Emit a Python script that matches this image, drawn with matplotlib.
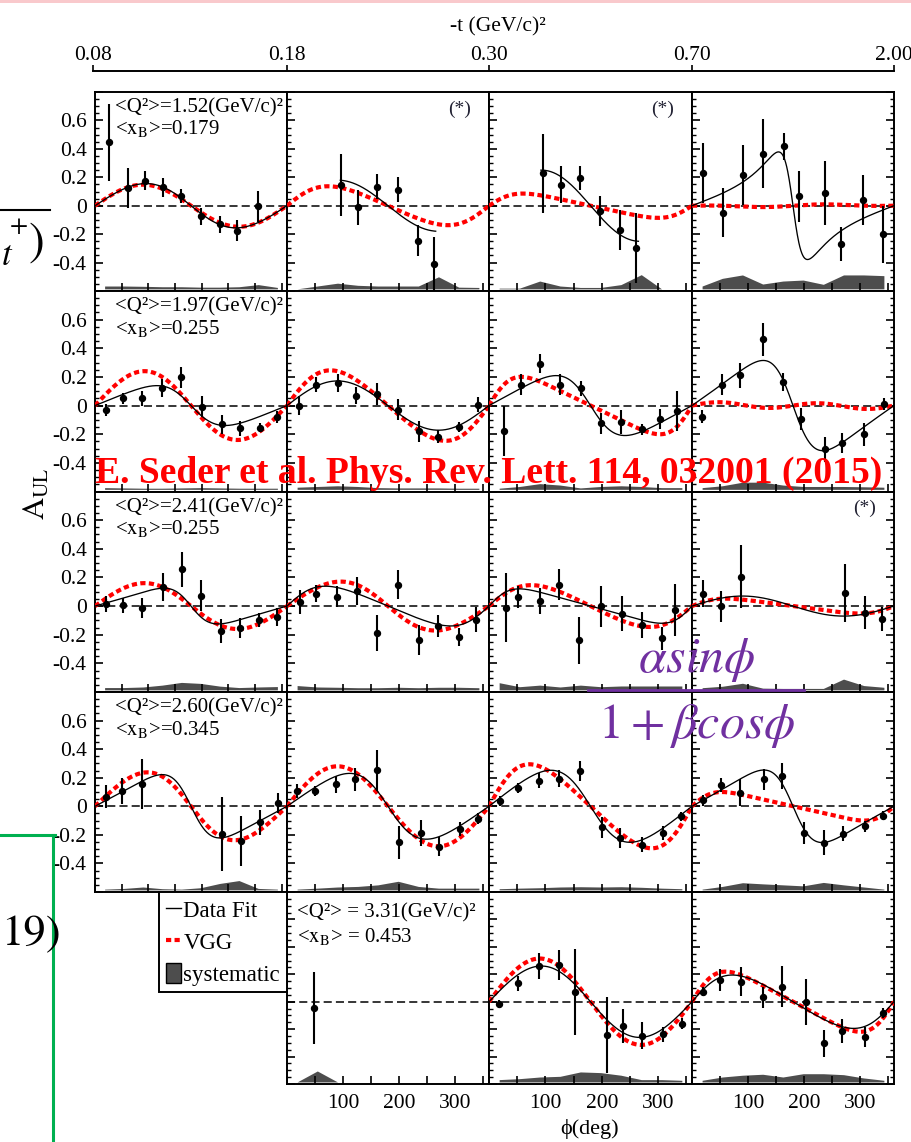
import numpy as np
import matplotlib
matplotlib.use("Agg")
import matplotlib.pyplot as plt
from matplotlib.lines import Line2D
from matplotlib.patches import Patch, Rectangle
from matplotlib.ticker import MultipleLocator, FuncFormatter

W, H = 912, 1142
plt.rcParams['font.family'] = ['Liberation Serif', 'DejaVu Serif']
plt.rcParams['mathtext.fontset'] = 'stix'

nan = np.nan

# bin centres of the systematic bands (deg)
sys_phi = [18, 54, 90, 126, 162, 198, 234, 270, 306, 342]
SYS_BASE = -0.585

# ---- <Q^2> = 1.52 ----
phi_a1 = [26, 62, 93, 128, 161, 198, 235, 267, 306]
asy_a1 = [0.447, 0.125, 0.176, 0.13, 0.07, -0.075, -0.13, -0.176, -0.005]
err_a1 = [0.27, 0.14, 0.067, 0.067, 0.05, 0.06, 0.06, 0.073, 0.11]
sys_a1 = [0.02, 0.02, 0.018, 0.015, 0.015, 0.012, 0.012, 0.015, 0.03, 0.01]

phi_a2 = [96, 127, 160, 198, 233, 262]
asy_a2 = [0.148, -0.01, 0.134, 0.113, -0.245, -0.41]
err_a2 = [0.218, 0.124, 0.09, 0.087, 0.108, 0.19]
sys_a2 = [0.0, 0.02, 0.04, 0.025, 0.02, 0.02, 0.02, 0.085, 0.012, 0.01]

phi_a3 = [96, 127, 161, 196, 233, 261]
asy_a3 = [0.228, 0.146, 0.195, -0.035, -0.17, -0.296]
err_a3 = [0.277, 0.13, 0.087, 0.105, 0.14, 0.245]
sys_a3 = [0.005, 0.005, 0.055, 0.02, 0.01, 0.01, 0.03, 0.1, 0.0, nan]

phi_a4 = [19, 56, 91, 127, 164, 191, 237, 266, 305, 340]
asy_a4 = [0.23, -0.05, 0.214, 0.365, 0.419, 0.066, 0.089, -0.27, 0.04, -0.2]
err_a4 = [0.21, 0.173, 0.21, 0.243, 0.094, 0.18, 0.224, 0.122, 0.178, 0.2]
sys_a4 = [0.02, 0.074, 0.098, 0.034, 0.055, 0.062, 0.032, 0.098, 0.098, 0.093]

fit_a = [(0.155, 0.10), (0.18, 0.0), (0.25, 0.05), (0.165, 0.90)]
span_a = [(0, 360), (95, 265), (92, 265), (0, 360)]
vgg_a = [(0.148, 0.0, 0.0), (0.131, -0.29, 0.0), (0.074, -0.5, 0.0), (-0.006, 0.0, 0.005)]

# ---- <Q^2> = 1.97 ----
phi_b1 = [20, 52, 89, 125, 161, 200, 238, 271, 309, 342]
asy_b1 = [-0.03, 0.05, 0.052, 0.122, 0.198, -0.007, -0.132, -0.16, -0.155, -0.08]
err_b1 = [0.044, 0.04, 0.053, 0.065, 0.074, 0.074, 0.065, 0.05, 0.03, 0.04]
sys_b1 = [0.012, 0.01, 0.008, 0.008, 0.01, 0.012, 0.01, 0.008, 0.008, 0.008]

phi_b2 = [21, 52, 91, 123, 160, 198, 236, 269, 306, 340]
asy_b2 = [0.0, 0.146, 0.158, 0.068, 0.078, -0.028, -0.18, -0.216, -0.148, 0.005]
err_b2 = [0.065, 0.053, 0.06, 0.06, 0.077, 0.072, 0.074, 0.047, 0.035, 0.053]
sys_b2 = [0.015, 0.02, 0.025, 0.02, 0.012, 0.01, 0.01, 0.01, 0.008, 0.008]

phi_b3 = [27, 56, 90, 126, 163, 198, 234, 271, 303, 333]
asy_b3 = [-0.176, 0.146, 0.292, 0.146, 0.12, -0.125, -0.115, -0.167, -0.096, -0.038]
err_b3 = [0.176, 0.073, 0.068, 0.075, 0.055, 0.076, 0.086, 0.04, 0.07, 0.14]
sys_b3 = [0.008, 0.02, 0.04, 0.03, 0.01, 0.02, 0.025, 0.02, 0.012, 0.012]

phi_b4 = [17, 53, 86, 127, 163, 194, 237, 268, 306, 342]
asy_b4 = [-0.078, 0.144, 0.21, 0.464, 0.162, -0.092, -0.304, -0.26, -0.2, 0.01]
err_b4 = [0.045, 0.073, 0.086, 0.115, 0.062, 0.076, 0.088, 0.07, 0.08, 0.044]
sys_b4 = [0.012, 0.025, 0.05, 0.05, 0.03, 0.02, 0.02, 0.02, 0.018, 0.015]

fit_b = [(0.125, 0.44), (0.172, 0.0), (0.183, 0.485), (0.252, 0.60)]
span_b = [(0, 360)] * 4
vgg_b = [(0.24, 0.05, 0.0), (0.24, -0.22, 0.0), (0.168, -0.545, 0.0), (0.005, 0.0, 0.02)]

# ---- <Q^2> = 2.41 ----
phi_c1 = [20, 53, 89, 127, 163, 199, 237, 271, 308, 341]
asy_c1 = [0.016, 0.005, -0.014, 0.134, 0.256, 0.073, -0.174, -0.155, -0.096, -0.075]
err_c1 = [0.055, 0.053, 0.068, 0.1, 0.12, 0.106, 0.087, 0.07, 0.05, 0.062]
sys_c1 = [0.016, 0.016, 0.02, 0.033, 0.052, 0.045, 0.026, 0.016, 0.02, 0.023]

phi_c2 = [23, 52, 89, 124, 160, 198, 236, 270, 307, 337]
asy_c2 = [0.028, 0.087, 0.066, 0.104, -0.19, 0.15, -0.238, -0.139, -0.216, -0.096]
err_c2 = [0.085, 0.058, 0.074, 0.1, 0.125, 0.1, 0.103, 0.077, 0.062, 0.088]
sys_c2 = [0.03, 0.02, 0.018, 0.015, 0.015, 0.018, 0.015, 0.018, 0.018, 0.015]

phi_c3 = [31, 52, 91, 124, 160, 199, 235, 271, 307, 329]
asy_c3 = [-0.01, 0.066, 0.038, 0.15, -0.24, -0.002, -0.052, -0.132, -0.226, -0.028]
err_c3 = [0.238, 0.076, 0.09, 0.11, 0.165, 0.144, 0.12, 0.092, 0.082, 0.18]
sys_c3 = [0.05, 0.022, 0.033, 0.02, 0.033, 0.022, 0.027, 0.027, 0.027, 0.027]

phi_c4 = [20, 52, 87, 272, 308, 339]
asy_c4 = [0.085, -0.002, 0.205, 0.092, -0.045, -0.09]
err_c4 = [0.094, 0.108, 0.218, 0.2, 0.118, 0.082]
sys_c4 = [0.015, 0.025, 0.046, 0.012, 0.01, 0.01, 0.01, 0.075, 0.03, 0.018]

fit_c = [(0.097, 0.63), (0.129, -0.37), (0.097, -0.59), (0.07, 0.0)]
span_c = [(0, 360)] * 4
vgg_c = [(0.16, 0.05, 0.0), (0.17, 0.1, 0.0), (0.141, -0.26, 0.0), (0.045, -0.5, 0.0)]

# ---- <Q^2> = 2.60 ----
phi_d1 = [20, 51, 89, 239, 273, 310, 343]
asy_d1 = [0.066, 0.106, 0.158, -0.195, -0.242, -0.113, 0.024]
err_d1 = [0.08, 0.09, 0.176, 0.26, 0.174, 0.086, 0.07]
sys_d1 = [0.005, 0.01, 0.02, 0.008, 0.005, 0.015, 0.045, 0.065, 0.01, 0.005]

phi_d2 = [18, 50, 87, 121, 161, 200, 238, 271, 308, 341]
asy_d2 = [0.108, 0.108, 0.155, 0.188, 0.252, -0.252, -0.188, -0.282, -0.16, -0.087]
err_d2 = [0.047, 0.035, 0.06, 0.08, 0.145, 0.115, 0.092, 0.065, 0.05, 0.04]
sys_d2 = [0.005, 0.012, 0.02, 0.024, 0.035, 0.06, 0.024, 0.012, 0.012, 0.012]

phi_d3 = [20, 51, 89, 125, 162, 200, 232, 271, 308, 341]
asy_d3 = [0.04, 0.127, 0.18, 0.193, 0.247, -0.148, -0.219, -0.27, -0.188, -0.07]
err_d3 = [0.035, 0.035, 0.053, 0.058, 0.073, 0.074, 0.07, 0.053, 0.047, 0.03]
sys_d3 = [0.008, 0.012, 0.015, 0.02, 0.022, 0.02, 0.022, 0.018, 0.012, 0.008]

phi_d4 = [19, 52, 86, 129, 161, 200, 236, 269, 308, 340]
asy_d4 = [0.042, 0.15, 0.094, 0.188, 0.212, -0.188, -0.254, -0.193, -0.141, -0.066]
err_d4 = [0.038, 0.05, 0.094, 0.075, 0.088, 0.079, 0.085, 0.053, 0.04, 0.032]
sys_d4 = [0.005, 0.024, 0.05, 0.042, 0.035, 0.028, 0.052, 0.035, 0.02, 0.005]

fit_d = [(0.179, 0.59), (0.214, 0.37), (0.237, 0.342), (0.20, 0.616)]
span_d = [(0, 360)] * 4
vgg_d = [(0.235, 0.15, 0.0), (0.28, 0.0, 0.0), (0.279, -0.317, 0.0), (0.08, -0.6, 0.0)]

# ---- <Q^2> = 3.31 ----
phi_e2 = [49]
asy_e2 = [-0.044]
err_e2 = [0.264]
sys_e2 = [0.0, 0.08, 0.0, nan, nan, nan, nan, nan, nan, nan]

phi_e3 = [17, 51, 89, 124, 153, 209, 237, 271, 309, 342]
asy_e3 = [-0.017, 0.134, 0.26, 0.268, 0.073, -0.243, -0.178, -0.248, -0.236, -0.161]
err_e3 = [0.03, 0.055, 0.096, 0.11, 0.313, 0.279, 0.124, 0.099, 0.055, 0.04]
sys_e3 = [0.017, 0.024, 0.036, 0.041, 0.073, 0.068, 0.049, 0.017, 0.017, 0.012]

phi_e4 = [19, 50, 88, 126, 160, 203, 235, 268, 309, 340]
asy_e4 = [0.073, 0.158, 0.146, 0.032, 0.11, 0.0, -0.304, -0.212, -0.256, -0.085]
err_e4 = [0.034, 0.08, 0.104, 0.078, 0.15, 0.168, 0.1, 0.088, 0.075, 0.037]
sys_e4 = [0.012, 0.036, 0.049, 0.056, 0.036, 0.06, 0.06, 0.053, 0.029, 0.012]

fit_e = [None, None, (0.26, 0.05), (0.185, -0.31)]
span_e = [(0, 360)] * 4
vgg_e = [None, None, (0.315, 0.0, 0.0), (0.19, -0.5, 0.0)]

q2_vals = ['1.52', '1.97', '2.41', '2.60', '3.31']
xb_vals = ['0.179', '0.255', '0.255', '0.345', '0.453']
t_edges = ['0.08', '0.18', '0.30', '0.70', '2.00']

rows = [
    ([(phi_a1, asy_a1, err_a1, sys_a1), (phi_a2, asy_a2, err_a2, sys_a2),
      (phi_a3, asy_a3, err_a3, sys_a3), (phi_a4, asy_a4, err_a4, sys_a4)],
     fit_a, span_a, vgg_a, [False, True, True, False]),
    ([(phi_b1, asy_b1, err_b1, sys_b1), (phi_b2, asy_b2, err_b2, sys_b2),
      (phi_b3, asy_b3, err_b3, sys_b3), (phi_b4, asy_b4, err_b4, sys_b4)],
     fit_b, span_b, vgg_b, [False] * 4),
    ([(phi_c1, asy_c1, err_c1, sys_c1), (phi_c2, asy_c2, err_c2, sys_c2),
      (phi_c3, asy_c3, err_c3, sys_c3), (phi_c4, asy_c4, err_c4, sys_c4)],
     fit_c, span_c, vgg_c, [False, False, False, True]),
    ([(phi_d1, asy_d1, err_d1, sys_d1), (phi_d2, asy_d2, err_d2, sys_d2),
      (phi_d3, asy_d3, err_d3, sys_d3), (phi_d4, asy_d4, err_d4, sys_d4)],
     fit_d, span_d, vgg_d, [False] * 4),
    ([None, (phi_e2, asy_e2, err_e2, sys_e2),
      (phi_e3, asy_e3, err_e3, sys_e3), (phi_e4, asy_e4, err_e4, sys_e4)],
     fit_e, span_e, vgg_e, [False] * 4),
]

# panel grid in pixels
col_x = [95, 287, 489, 692, 894]
row_y = [92, 291, 491.5, 692, 892, 1084]


def a_ul(phi, alpha, beta, gamma=0.0):
    r = np.radians(phi)
    return (alpha * np.sin(r) + gamma * np.sin(2 * r)) / (1 + beta * np.cos(r))


def box(x0, y0, x1, y1):
    return [x0 / W, 1 - y1 / H, (x1 - x0) / W, (y1 - y0) / H]


def ylab(v, pos):
    if abs(v) < 1e-9:
        return '0'
    if -0.45 < v < 0.65:
        return f'{v:.1f}'
    return ''


def xlab(v, pos):
    return f'{v:.0f}' if round(v) in (100, 200, 300) else ''


fig = plt.figure(figsize=(W / 100, H / 100), dpi=100)

for r, (data, fits, spans, vggs, stars) in enumerate(rows):
    for c in range(4):
        if data[c] is None:
            continue
        phi, asy, err, sysh = data[c]
        ax = fig.add_axes(box(col_x[c], row_y[r], col_x[c + 1], row_y[r + 1]))
        ax.set_xlim(0, 360)
        ax.set_ylim(-0.6, 0.8)

        h = np.array(sysh, dtype=float)
        ok = ~np.isnan(h)
        ax.fill_between(np.array(sys_phi)[ok], SYS_BASE, SYS_BASE + h[ok],
                        color='#4d4d4d', lw=0, zorder=1)
        ax.axhline(0, color='black', lw=1.1, ls=(0, (5.3, 2.7)), zorder=2)

        if vggs[c] is not None:
            grid = np.linspace(0, 360, 400)
            ax.plot(grid, a_ul(grid, *vggs[c]), color='#ff0000', lw=3.0,
                    ls=(0, (1.25, 0.8)), solid_capstyle='butt', zorder=3)
        if fits[c] is not None:
            lo, hi = spans[c]
            grid = np.linspace(lo, hi, 400)
            ax.plot(grid, a_ul(grid, *fits[c]), color='black', lw=0.95, zorder=4)

        ax.errorbar(phi, asy, yerr=err, fmt='o', color='black', ms=4.3,
                    elinewidth=1.5, capsize=0, zorder=5)

        for sp in ax.spines.values():
            sp.set_linewidth(1.4)
        ax.xaxis.set_major_locator(MultipleLocator(50))
        ax.yaxis.set_major_locator(MultipleLocator(0.2))
        ax.yaxis.set_minor_locator(MultipleLocator(0.05))
        ax.tick_params(axis='both', which='major', direction='in', length=6, width=1.2)
        ax.tick_params(axis='y', which='minor', direction='in', length=3, width=1.0)
        ax.tick_params(axis='y', which='both', left=True, right=(c == 3))
        ax.tick_params(axis='x', which='both', bottom=True, top=False)
        ax.tick_params(axis='y', labelsize=15.5, pad=6)
        ax.tick_params(axis='x', labelsize=15.5, pad=7)

        if c == 0:
            ax.yaxis.set_major_formatter(FuncFormatter(ylab))
        else:
            ax.set_yticklabels([])
        if r == 4:
            ax.xaxis.set_major_formatter(FuncFormatter(xlab))
        else:
            ax.set_xticklabels([])

        if c == 0 and r < 4:
            ax.text(0.104, 0.92, f'<Q²>={q2_vals[r]}(GeV/c)²', transform=ax.transAxes,
                    fontsize=15, ha='left', va='center')
            ax.text(0.104, 0.815, '<$\\mathrm{x_B}$>=' + xb_vals[r], transform=ax.transAxes,
                    fontsize=15, ha='left', va='center')
        if r == 4 and c == 1:
            ax.text(0.05, 0.89, f'<Q²> = {q2_vals[r]}(GeV/c)²', transform=ax.transAxes,
                    fontsize=15, ha='left', va='center')
            ax.text(0.05, 0.766, '<$\\mathrm{x_B}$> = ' + xb_vals[r], transform=ax.transAxes,
                    fontsize=15, ha='left', va='center')
        if stars[c]:
            ax.text(0.856, 0.915, '(*)', transform=ax.transAxes, fontsize=14,
                    ha='center', va='center', color='#222233')

# -t axis across the top
tax = fig.add_axes([93 / W, 1 - 71 / H, (894 - 93) / W, 0.0001])
tax.set_xlim(93, 894)
tax.set_ylim(0, 1)
for side in ('left', 'right', 'top'):
    tax.spines[side].set_visible(False)
tax.spines['bottom'].set_linewidth(1.4)
tax.set_yticks([])
tax.set_xticks([93, 287, 489, 692, 894])
tax.set_xticklabels(t_edges)
tax.tick_params(axis='x', direction='in', length=4, width=1.2, bottom=True, top=False,
                labelbottom=False, labeltop=True, labelsize=15.5, pad=4)
fig.text(498 / W, 1 - 27 / H, '-t (GeV/c)²', fontsize=15.5, ha='center', va='center')

fig.text(37 / W, 1 - 494 / H, '$\\mathrm{A_{UL}}$', rotation=90, fontsize=22,
         ha='center', va='center')
fig.text(590 / W, 1 - 1129 / H, 'ϕ(deg)', fontsize=16, ha='center', va='center')

handles = [Line2D([], [], color='black', lw=1.0),
           Line2D([], [], color='#ff0000', lw=3.0, ls=(0, (1.25, 0.8))),
           Patch(facecolor='#4d4d4d', edgecolor='black', lw=1.0)]
leg = fig.legend(handles, ['Data Fit', 'VGG', 'systematic'], loc='upper right',
                 bbox_to_anchor=(287 / W, 1 - 892 / H), fancybox=False, framealpha=1,
                 edgecolor='black', borderaxespad=0, fontsize=16.5, handlelength=0.65,
                 handletextpad=0.13, borderpad=0.3, labelspacing=0.38, handleheight=1.0)
leg.get_frame().set_linewidth(1.4)

# slide decorations around the figure
fig.add_artist(Rectangle((0, 1 - 3 / H), 1, 3 / H, transform=fig.transFigure,
                         color='#f9c9cc', lw=0))
fig.add_artist(Line2D([0, 50 / W], [1 - 210 / H] * 2, color='black', lw=1.5))
fig.text(1 / W, 1 - 265 / H, '$t$', fontsize=25, ha='left', va='baseline')
fig.text(19 / W, 1 - 227 / H, '+', fontsize=19, ha='center', va='center', family='STIXGeneral')
fig.text(37 / W, 1 - 243 / H, ')', fontsize=34, ha='center', va='center', family='STIXGeneral')
fig.add_artist(Line2D([0, 55 / W], [1 - 835 / H] * 2, color='#00b050', lw=2.2))
fig.add_artist(Line2D([53.5 / W] * 2, [1 - 835 / H, 0], color='#00b050', lw=2.2))
fig.text(1 / W, 1 - 945 / H, '19)', fontsize=32, ha='left', va='baseline', family='STIXGeneral')

purple = '#7030a0'
fig.text(697 / W, 1 - 660 / H, '$\\alpha sin\\phi$', fontsize=36, color=purple,
         ha='center', va='center', zorder=60)
fig.text(697 / W, 1 - 726 / H, '$1 + \\beta cos\\phi$', fontsize=36, color=purple,
         ha='center', va='center', zorder=60)
fig.add_artist(Line2D([588 / W, 804 / W], [1 - 690 / H] * 2, color=purple, lw=2.0, zorder=60))

ref = fig.text(95 / W, 1 - 483 / H, 'E. Seder et al. Phys. Rev. Lett. 114, 032001 (2015)',
               fontsize=27, fontweight='bold', color='#ff0000', ha='left', va='baseline',
               zorder=60)
fig.canvas.draw()
bb = ref.get_window_extent()
ref.set_fontsize(27 * 787 / bb.width)

fig.savefig('out.png', dpi=100)
